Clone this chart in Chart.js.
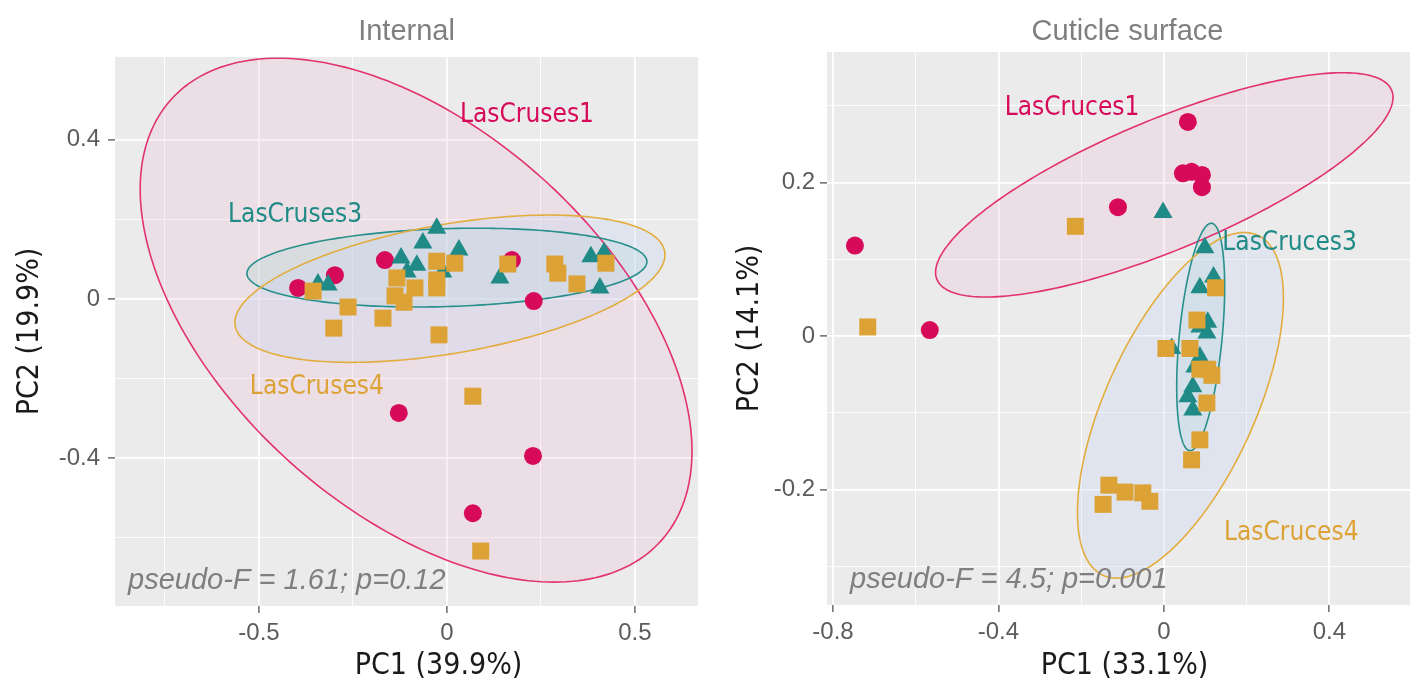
<!DOCTYPE html>
<html>
<head>
<meta charset="utf-8">
<script src="https://cdn.jsdelivr.net/npm/chart.js@4.4.1/dist/chart.umd.min.js"></script>
<style>
    html, body { margin: 0; padding: 0; background: #fff; overflow: hidden; }
    .panel { position: absolute; top: 0; height: 688px; }
    #internalWrap { left: 0; width: 710px; }
    #cuticleWrap { left: 710px; width: 730px; }
</style>
</head>
<body>
<div id="internalWrap" class="panel"><canvas id="internalChart" width="710" height="688"></canvas></div>
<div id="cuticleWrap" class="panel"><canvas id="cuticleChart" width="730" height="688"></canvas></div>
<script>
// ---- Internal panel ----
const internalGroups = ['LasCruses1', 'LasCruses3', 'LasCruses4'];
const intPinkX = [-0.396, -0.298, -0.165, 0.173, 0.231, -0.128, 0.229, 0.069];
const intPinkY = [0.028, 0.060, 0.098, 0.098, -0.005, -0.286, -0.394, -0.538];
const intTealX = [-0.343, -0.316, -0.122, -0.106, -0.080, -0.064, -0.027, -0.011, 0.032, 0.141, 0.383, 0.418, 0.407];
const intTealY = [0.038, 0.035, 0.103, 0.068, 0.085, 0.141, 0.178, 0.068, 0.123, 0.053, 0.106, 0.116, 0.028];
const intGoldX = [-0.356, -0.263, -0.301, -0.170, -0.133, -0.138, -0.114, -0.085, -0.027, 0.021, -0.027, -0.027, 0.162, 0.287, 0.295, 0.346, 0.423, -0.021, 0.069, 0.090];
const intGoldY = [0.020, -0.020, -0.073, -0.048, 0.053, 0.008, -0.008, 0.028, 0.095, 0.090, 0.048, 0.028, 0.088, 0.088, 0.065, 0.038, 0.090, -0.090, -0.244, -0.633];
// ellipse: centre x, centre y, half width, half height, correlation
const intEllipsePink = [-0.082, -0.053, 0.734, 0.658, -0.5];
const intEllipseTeal = [0.000, 0.079, 0.532, 0.099, 0.15];
const intEllipseGold = [0.008, 0.026, 0.572, 0.185, 0.46];
const intLabelX = [0.213, -0.404, -0.346];
const intLabelY = [0.462, 0.211, -0.221];
const intXMajor = [-0.5, 0, 0.5];
const intXMinor = [-0.75, -0.25, 0.25];
const intYMajor = [-0.4, 0, 0.4];
const intYMinor = [-0.6, -0.2, 0.2];

// ---- Cuticle surface panel ----
const cuticleGroups = ['LasCruces1', 'LasCruces3', 'LasCruces4'];
const cutPinkX = [-0.747, -0.566, -0.111, 0.058, 0.046, 0.067, 0.092, 0.092];
const cutPinkY = [0.118, 0.008, 0.168, 0.279, 0.212, 0.214, 0.210, 0.194];
const cutTealX = [-0.002, 0.099, 0.120, 0.087, 0.106, 0.087, 0.104, 0.019, 0.087, 0.075, 0.070, 0.058, 0.070];
const cutTealY = [0.161, 0.115, 0.077, 0.063, 0.018, 0.012, 0.004, -0.016, -0.027, -0.040, -0.066, -0.079, -0.096];
const cutGoldX = [-0.214, -0.716, 0.125, 0.080, 0.005, 0.063, 0.087, 0.106, 0.116, 0.104, 0.087, 0.067, -0.133, -0.094, -0.051, -0.034, -0.147];
const cutGoldY = [0.143, 0.012, 0.063, 0.021, -0.016, -0.016, -0.043, -0.043, -0.051, -0.087, -0.135, -0.161, -0.194, -0.203, -0.204, -0.215, -0.219];
const cutEllipsePink = [0.001, 0.197, 0.553, 0.146, 0.78];
const cutEllipseTeal = [0.089, -0.001, 0.058, 0.148, 0.44];
const cutEllipseGold = [0.040, -0.090, 0.249, 0.225, 0.62];
const cutLabelX = [-0.222, 0.304, 0.308];
const cutLabelY = [0.297, 0.121, -0.257];
const cutXMajor = [-0.8, -0.4, 0, 0.4];
const cutXMinor = [-0.6, -0.2, 0.2];
const cutYMajor = [-0.2, 0, 0.2];
const cutYMinor = [-0.3, -0.1, 0.1, 0.3];

const PINK = '#d70a5a';
const TEAL = '#1f8a86';
const GOLD = '#dca236';
const groupColors = [PINK, TEAL, GOLD];
const lineColors = ['#e2326f', '#27908b', '#e3ad3e'];
const fillColors = ['rgba(236, 170, 200, 0.20)', 'rgba(175, 215, 212, 0.30)', 'rgba(200, 212, 245, 0.30)'];

const SANS = "'Liberation Sans', Arial, sans-serif";
const GOTHIC = "'DejaVu Sans Condensed', 'DejaVu Sans', sans-serif";

const toPoints = (xs, ys) => xs.map((x, i) => ({ x: x, y: ys[i] }));

// background, ellipses, group labels, titles and the test statistic
const panelDecor = {
    id: 'panelDecor',
    beforeDraw(chart, args, opts) {
        const { ctx, chartArea: a } = chart;
        ctx.save();
        ctx.fillStyle = '#ebebeb';
        ctx.fillRect(a.left, a.top, a.right - a.left, a.bottom - a.top);
        ctx.restore();
    },
    beforeDatasetsDraw(chart, args, opts) {
        const { ctx, chartArea: a, scales } = chart;
        const paths = opts.ellipses.map(e => {
            const [cx, cy, sx, sy, r] = e;
            const s = Math.sqrt(1 - r * r);
            const path = new Path2D();
            for (let i = 0; i <= 240; i++) {
                const t = i / 240 * Math.PI * 2;
                const px = scales.x.getPixelForValue(cx + sx * Math.cos(t));
                const py = scales.y.getPixelForValue(cy + sy * (r * Math.cos(t) + s * Math.sin(t)));
                if (i === 0) path.moveTo(px, py); else path.lineTo(px, py);
            }
            path.closePath();
            return path;
        });
        ctx.save();
        ctx.beginPath();
        ctx.rect(a.left, a.top, a.right - a.left, a.bottom - a.top);
        ctx.clip();
        paths.forEach((p, i) => { ctx.fillStyle = fillColors[i]; ctx.fill(p); });
        paths.forEach((p, i) => {
            ctx.strokeStyle = lineColors[i];
            ctx.lineWidth = 1.6;
            ctx.stroke(p);
        });
        ctx.restore();
    },
    afterDatasetsDraw(chart, args, opts) {
        const { ctx, chartArea: a, scales } = chart;
        ctx.save();
        ctx.textAlign = 'center';
        ctx.textBaseline = 'middle';
        ctx.font = '26px ' + GOTHIC;
        opts.labels.forEach((name, i) => {
            ctx.fillStyle = groupColors[i];
            ctx.fillText(name, scales.x.getPixelForValue(opts.labelX[i]), scales.y.getPixelForValue(opts.labelY[i]));
        });
        // test statistic
        ctx.fillStyle = '#7f7f7f';
        ctx.font = 'italic 29px ' + SANS;
        ctx.textAlign = 'left';
        ctx.textBaseline = 'alphabetic';
        ctx.fillText(opts.stat, a.left + opts.statDx, a.bottom - 17);
        // panel title
        ctx.font = '29px ' + SANS;
        ctx.textAlign = 'center';
        ctx.fillText(opts.title, (a.left + a.right) / 2, 40);
        // x axis title
        ctx.fillStyle = '#1a1a1a';
        ctx.font = '30px ' + GOTHIC;
        ctx.textBaseline = 'middle';
        ctx.fillText(opts.xTitle, (a.left + a.right) / 2 + opts.xTitleDx, 666);
        ctx.restore();
    }
};

function makeAxis(major, minor, min, max, titleText, size, titlePad, tickPad) {
    const all = major.concat(minor).sort((p, q) => p - q);
    const isMajor = v => major.some(m => Math.abs(m - v) < 1e-9);
    return {
        type: 'linear',
        min: min,
        max: max,
        afterBuildTicks: axis => { axis.ticks = all.map(v => ({ value: v })); },
        afterFit: axis => {
            if (axis.isHorizontal()) axis.height = size; else axis.width = size;
        },
        border: { display: false },
        grid: {
            color: '#ffffff',
            lineWidth: c => (c.tick && isMajor(c.tick.value)) ? 1.8 : 0.9,
            tickLength: 7,
            tickWidth: 1.2,
            tickColor: c => (c.tick && isMajor(c.tick.value)) ? '#444444' : 'rgba(0,0,0,0)'
        },
        ticks: {
            autoSkip: false,
            maxRotation: 0,
            padding: tickPad,
            color: '#5c5c5c',
            font: { family: SANS, size: 24 },
            callback: v => isMajor(v) ? String(v) : ''
        },
        title: {
            display: titleText !== '',
            text: titleText,
            color: '#1a1a1a',
            font: { family: GOTHIC, size: 30 },
            padding: { top: titlePad, bottom: 0 }
        }
    };
}

function createPanel(canvasId, cfg) {
    const ctx = document.getElementById(canvasId).getContext('2d');
    new Chart(ctx, {
        type: 'scatter',
        data: {
            datasets: [{
                label: cfg.labels[2],
                data: toPoints(cfg.goldX, cfg.goldY),
                pointStyle: 'rect',
                radius: 12,
                backgroundColor: GOLD,
                borderWidth: 0,
                order: 1
            }, {
                label: cfg.labels[1],
                data: toPoints(cfg.tealX, cfg.tealY),
                pointStyle: 'triangle',
                radius: 11,
                backgroundColor: TEAL,
                borderWidth: 0,
                order: 2
            }, {
                label: cfg.labels[0],
                data: toPoints(cfg.pinkX, cfg.pinkY),
                pointStyle: 'circle',
                radius: 9,
                backgroundColor: PINK,
                borderWidth: 0,
                order: 3
            }]
        },
        options: {
            responsive: false,
            animation: false,
            events: [],
            layout: { padding: { top: cfg.padTop, right: cfg.padRight, left: 0, bottom: 0 } },
            plugins: {
                legend: { display: false },
                tooltip: { enabled: false },
                panelDecor: {
                    ellipses: cfg.ellipses,
                    labels: cfg.labels,
                    labelX: cfg.labelX,
                    labelY: cfg.labelY,
                    title: cfg.title,
                    stat: cfg.stat,
                    statDx: cfg.statDx,
                    xTitle: cfg.xTitle,
                    xTitleDx: cfg.xTitleDx
                }
            },
            scales: {
                x: makeAxis(cfg.xMajor, cfg.xMinor, cfg.xMin, cfg.xMax, '', cfg.xSize, 0, 6),
                y: makeAxis(cfg.yMajor, cfg.yMinor, cfg.yMin, cfg.yMax, cfg.yTitle, cfg.ySize, cfg.yTitlePad, cfg.yTickPad)
            }
        },
        plugins: [panelDecor]
    });
}

createPanel('internalChart', {
    title: 'Internal',
    stat: 'pseudo-F = 1.61; p=0.12',
    statDx: 13,
    labels: internalGroups,
    pinkX: intPinkX, pinkY: intPinkY,
    tealX: intTealX, tealY: intTealY,
    goldX: intGoldX, goldY: intGoldY,
    ellipses: [intEllipsePink, intEllipseTeal, intEllipseGold],
    labelX: intLabelX, labelY: intLabelY,
    xMajor: intXMajor, xMinor: intXMinor, yMajor: intYMajor, yMinor: intYMinor,
    xMin: -0.883, xMax: 0.668, yMin: -0.771, yMax: 0.608,
    xTitle: 'PC1 (39.9%)', xTitleDx: 32, yTitle: 'PC2 (19.9%)',
    padTop: 57, padRight: 12, xSize: 82, ySize: 115, yTitlePad: 12, yTickPad: 8
});

createPanel('cuticleChart', {
    title: 'Cuticle surface',
    stat: 'pseudo-F = 4.5; p=0.001',
    statDx: 23,
    labels: cuticleGroups,
    pinkX: cutPinkX, pinkY: cutPinkY,
    tealX: cutTealX, tealY: cutTealY,
    goldX: cutGoldX, goldY: cutGoldY,
    ellipses: [cutEllipsePink, cutEllipseTeal, cutEllipseGold],
    labelX: cutLabelX, labelY: cutLabelY,
    xMajor: cutXMajor, xMinor: cutXMinor, yMajor: cutYMajor, yMinor: cutYMinor,
    xMin: -0.8145, xMax: 0.6386, yMin: -0.350, yMax: 0.370,
    xTitle: 'PC1 (33.1%)', xTitleDx: -3, yTitle: 'PC2 (14.1%)',
    padTop: 52, padRight: 11, xSize: 83, ySize: 117, yTitlePad: 22, yTickPad: 5
});
</script>
</body>
</html>
